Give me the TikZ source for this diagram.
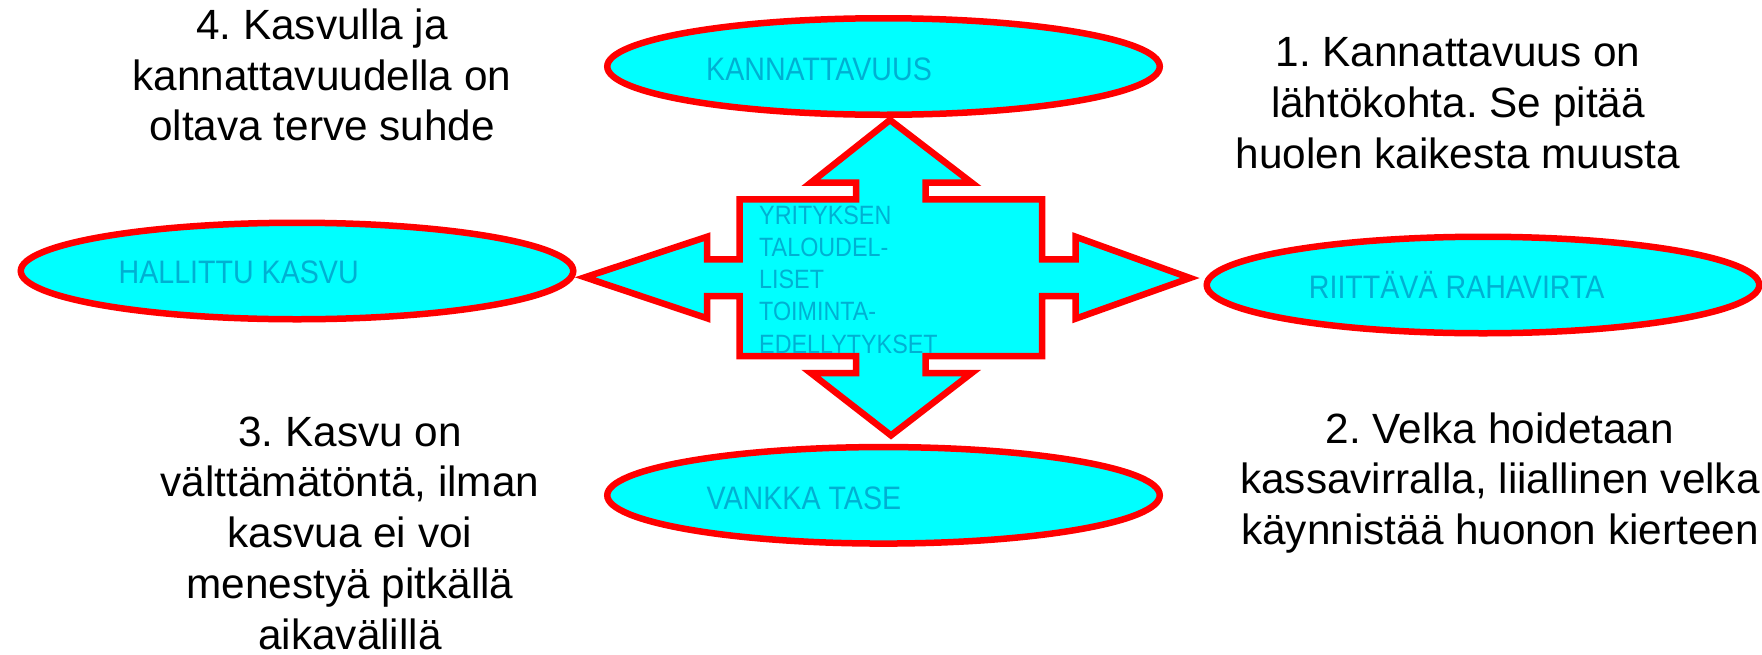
\documentclass[tikz,border=0pt]{standalone}
\usepackage{fontspec}
\setmainfont{Liberation Sans}
\newfontfamily\lblfont[FakeStretch=0.88]{Liberation Sans}
\usetikzlibrary{shapes.geometric}
\definecolor{shapefill}{RGB}{0,255,255}
\definecolor{shapeline}{RGB}{255,0,0}
\definecolor{lbltext}{RGB}{0,176,210}
\frenchspacing
\begin{document}
\begin{tikzpicture}[x=1pt,y=-1pt,
  goal/.style={ellipse, draw=shapeline, fill=shapefill, line width=6.5pt,
    minimum width=552.5pt, minimum height=96.5pt, inner sep=0pt},
  goallabel/.style={anchor=base west, inner sep=0pt, text=lbltext,
    font=\lblfont\fontsize{32.5}{39}\selectfont},
  corelabel/.style={anchor=base west, inner sep=0pt, text=lbltext,
    font=\lblfont\fontsize{26.5}{32.25}\selectfont},
  note/.style={anchor=base, inner sep=0pt, font=\fontsize{42.3}{50.8}\selectfont},
  crossshape/.style={draw=shapeline, fill=shapefill, line width=6.5pt, line join=miter},
  ]
\useasboundingbox (0,0) rectangle (1762,654);
\fill[white] (0,0) rectangle (1762,654);

% goal ellipses
\node[goal] (kann) at (883.5,66.5) {};
\node[goal] (hall) at (297,271) {};
\node[goal] (riit) at (1483,285) {};
\node[goal] (vank) at (883.5,495.3) {};

% central cross with four arrows
\draw[crossshape] (890,120) -- (971.7,182.7) -- (925.5,182.7) -- (925.5,199.3)
  -- (1042,199.3) -- (1042,259.3) -- (1075.5,259.3) -- (1075.5,236.7)
  -- (1190,278) -- (1075.5,318.7) -- (1075.5,296) -- (1042,296)
  -- (1042,356) -- (925.5,356) -- (925.5,373) -- (971.7,373)
  -- (891,435.4) -- (810.8,373) -- (856,373) -- (856,356)
  -- (739.7,356) -- (739.7,296) -- (707.2,296) -- (707.2,318.3)
  -- (585,277.3) -- (707.2,236.7) -- (707.2,259.3) -- (739.7,259.3)
  -- (739.7,199.3) -- (856,199.3) -- (856,182.7) -- (810.8,182.7) -- cycle;

% labels
\node[goallabel] (kannlbl) at (706,80.2) {KANNATTAVUUS};
\node[goallabel] (halllbl) at (118.5,283) {HALLITTU KASVU};
\node[goallabel] (riitlbl) at (1308.7,298) {RIITTÄVÄ RAHAVIRTA};
\node[goallabel] (vanklbl) at (706.5,509.3) {VANKKA TASE};
\node[corelabel] (core) at (759,224)
  {\begin{tabular}[t]{@{}l@{}}YRITYKSEN\\TALOUDEL-\\LISET\\TOIMINTA-\\EDELLYTYKSET\end{tabular}};

% notes
\node[note] (n4) at (322,39.3)
  {\begin{tabular}[t]{@{}c@{}}4. Kasvulla ja\\kannattavuudella on\\oltava terve suhde\end{tabular}};
\node[note] (n1) at (1458,66.7)
  {\begin{tabular}[t]{@{}c@{}}1. Kannattavuus on\\lähtökohta. Se pitää\\huolen kaikesta muusta\end{tabular}};
\node[note] (n3) at (350,446)
  {\begin{tabular}[t]{@{}c@{}}3. Kasvu on\\välttämätöntä, ilman\\kasvua ei voi\\menestyä pitkällä\\aikavälillä\end{tabular}};
\node[note] (n2) at (1500,443)
  {\begin{tabular}[t]{@{}c@{}}2. Velka hoidetaan\\kassavirralla, liiallinen velka\\käynnistää huonon kierteen\end{tabular}};
\end{tikzpicture}
\end{document}
